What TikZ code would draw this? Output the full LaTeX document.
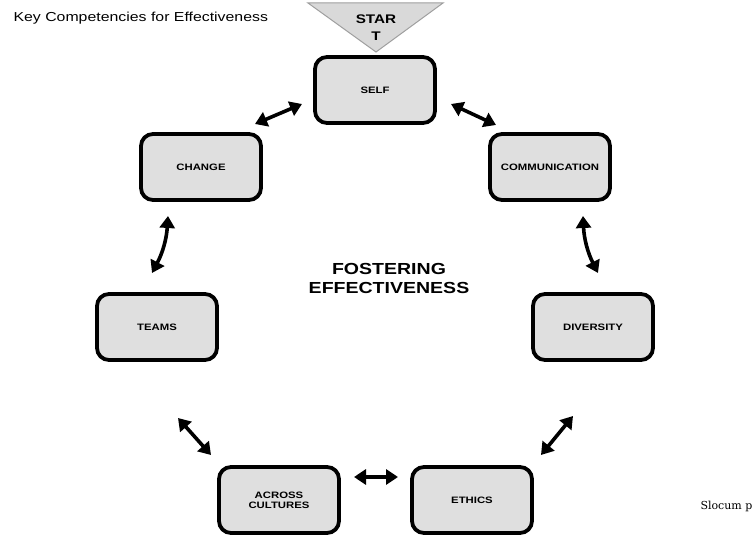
\documentclass[tikz,border=0pt]{standalone}
\usepackage{fontspec}
\setsansfont[FakeStretch=1.22]{Liberation Sans}
\newfontfamily\slabfont{DejaVu Serif}
\usepackage{tikz}
\usetikzlibrary{arrows.meta, positioning}

\begin{document}
\begin{tikzpicture}[x=1pt, y=-1pt,
    compBox/.style={rectangle, rounded corners=12pt, draw=black, line width=3.8pt, fill=gray!25, minimum width=120pt, minimum height=66pt, align=center, font=\sffamily\bfseries\fontsize{9.3}{9.6}\selectfont},
    startTri/.style={fill=gray!30, draw=gray!75, line width=1pt},
    linkRel/.style={{Triangle[length=12pt,width=15pt]}-{Triangle[length=12pt,width=15pt]}, line width=3.6pt, black},
    titleText/.style={font=\sffamily\fontsize{13}{15}\selectfont, anchor=base west}
]
    \useasboundingbox (0,0) rectangle (753,537);

    % Titles and Labels
    \node[titleText] (title) at (10,22) {Key Competencies for Effectiveness};
    \node[font=\sffamily\bfseries\fontsize{16}{19}\selectfont, align=center] (center) at (389,278) {FOSTERING\\EFFECTIVENESS};
    \node[font=\slabfont\fontsize{11}{13}\selectfont, anchor=base west] (source) at (697,509) {Slocum p};

    % Start marker
    \filldraw[startTri] (308,3) -- (443,3) -- (376,52) -- cycle;
    \node[font=\sffamily\bfseries\fontsize{12.5}{17}\selectfont, align=center] (start) at (376,28) {STAR\\T};

    % Competencies
    \node[compBox] (self)   at (375,90)  {SELF};
    \node[compBox] (change) at (201,167) {CHANGE};
    \node[compBox] (comm)   at (550,167) {COMMUNICATION};
    \node[compBox] (teams)  at (157,327) {TEAMS};
    \node[compBox] (div)    at (593,327) {DIVERSITY};
    \node[compBox] (across) at (279,500) {ACROSS\\CULTURES};
    \node[compBox] (ethics) at (472,500) {ETHICS};

    % Arrow ends
    \coordinate (sc1) at (255,124);  \coordinate (sc2) at (302,104);
    \coordinate (sm1) at (451,104);  \coordinate (sm2) at (496,125);
    \coordinate (ct1) at (168,216);  \coordinate (ct2) at (152,273);
    \coordinate (md1) at (583,216);  \coordinate (md2) at (598,273);
    \coordinate (ta1) at (178,418);  \coordinate (ta2) at (211,455);
    \coordinate (ae1) at (354,477);  \coordinate (ae2) at (398,477);
    \coordinate (ed1) at (541,455);  \coordinate (ed2) at (573,416);

    % Relationships
    \draw[linkRel] (sc1) -- (sc2);
    \draw[linkRel] (sm1) -- (sm2);
    \draw[linkRel, bend left=12] (ct1) to (ct2);
    \draw[linkRel, bend right=12] (md1) to (md2);
    \draw[linkRel] (ta1) -- (ta2);
    \draw[linkRel] (ae1) -- (ae2);
    \draw[linkRel] (ed1) -- (ed2);
\end{tikzpicture}
\end{document}
